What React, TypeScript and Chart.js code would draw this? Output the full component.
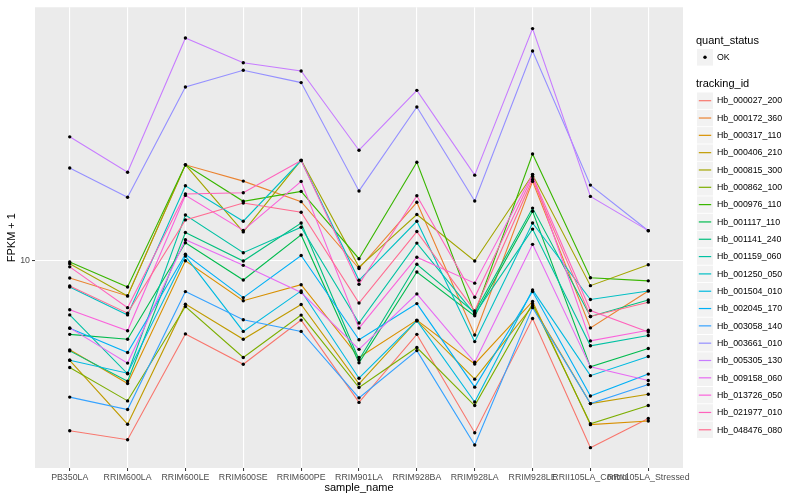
import React, { useEffect, useRef } from "react";
import { Chart, registerables } from "chart.js";

Chart.register(...registerables);

const categories = [
  "PB350LA", "RRIM600LA", "RRIM600LE", "RRIM600SE", "RRIM600PE", "RRIM901LA",
  "RRIM928BA", "RRIM928LA", "RRIM928LE", "RRII105LA_Control", "RRII105LA_Stressed",
];

const trackingIds = [
  "Hb_000027_200", "Hb_000172_360", "Hb_000317_110", "Hb_000406_210", "Hb_000815_300",
  "Hb_000862_100", "Hb_000976_110", "Hb_001117_110", "Hb_001141_240", "Hb_001159_060",
  "Hb_001250_050", "Hb_001504_010", "Hb_002045_170", "Hb_003058_140", "Hb_003661_010",
  "Hb_005305_130", "Hb_009158_060", "Hb_013726_050", "Hb_021977_010", "Hb_048476_080",
];

const seriesColors = [
  "#F8766D", "#EA8331", "#D89000", "#C09B00", "#A3A500", "#7CAE00", "#39B600", "#00BB4E",
  "#00BF7D", "#00C1A3", "#00BFC4", "#00BAE0", "#00B0F6", "#35A2FF", "#9590FF", "#C77CFF",
  "#E76BF3", "#FA62DB", "#FF62BC", "#FF6C91",
];

// FPKM + 1 values per sample, in category order
const hb_000027_200 = [2.70, 2.52, 5.70, 4.51, 6.34, 3.36, 5.68, 2.66, 6.42, 2.37, 2.97];
const hb_000172_360 = [8.77, 7.64, 21.0, 18.52, 15.81, 9.44, 15.73, 5.65, 18.48, 5.97, 7.94];
const hb_000317_110 = [5.04, 3.89, 10.02, 7.36, 8.33, 4.75, 6.34, 4.52, 7.32, 2.83, 2.91];
const hb_000406_210 = [4.65, 2.84, 7.17, 5.47, 7.15, 3.88, 6.31, 4.02, 7.07, 3.33, 3.58];
const hb_000815_300 = [9.79, 7.64, 21.0, 12.52, 21.78, 9.54, 14.31, 10.0, 19.45, 8.27, 9.72];
const hb_000862_100 = [4.40, 3.40, 7.04, 4.75, 6.59, 3.77, 5.13, 3.28, 7.19, 2.85, 3.28];
const hb_000976_110 = [9.92, 8.18, 21.0, 15.85, 17.11, 10.18, 21.42, 6.66, 22.82, 8.79, 8.58];
const hb_001117_110 = [5.68, 5.47, 11.51, 8.64, 12.23, 4.56, 9.19, 6.55, 14.68, 4.42, 5.09];
const hb_001141_240 = [5.0, 3.96, 12.46, 10.0, 13.41, 4.67, 9.75, 6.72, 15.04, 6.52, 7.40];
const hb_001159_060 = [6.60, 4.19, 14.26, 10.66, 12.97, 6.20, 11.48, 6.64, 12.79, 5.20, 5.63];
const hb_001250_050 = [8.18, 6.60, 17.87, 13.59, 21.7, 8.62, 13.59, 5.37, 13.41, 7.43, 7.94];
const hb_001504_010 = [4.65, 4.21, 10.39, 5.81, 7.94, 4.05, 6.31, 3.37, 8.0, 4.13, 4.79];
const hb_002045_170 = [5.95, 4.94, 10.53, 7.54, 10.44, 5.45, 7.20, 3.78, 7.90, 3.53, 4.18];
const hb_003058_140 = [3.50, 3.18, 7.90, 6.36, 5.81, 3.48, 5.01, 2.42, 6.98, 3.33, 3.86];
const hb_003661_010 = [20.5, 16.36, 38.28, 43.56, 39.6, 17.17, 32.8, 15.89, 50.5, 17.96, 12.63];
const hb_005305_130 = [26.06, 19.84, 55.85, 46.15, 43.3, 23.5, 37.3, 19.39, 60.06, 16.46, 12.64];
const hb_009158_060 = [5.97, 4.55, 11.78, 9.67, 7.84, 5.06, 7.76, 4.58, 11.37, 4.42, 3.98];
const hb_013726_050 = [6.87, 5.84, 16.59, 12.66, 18.48, 5.96, 10.30, 8.43, 19.49, 5.40, 5.86];
const hb_021977_010 = [9.56, 6.98, 16.76, 16.94, 21.7, 8.36, 16.55, 7.56, 19.19, 6.83, 5.78];
const hb_048476_080 = [8.25, 6.69, 13.73, 15.64, 14.57, 7.23, 12.55, 6.81, 18.76, 6.52, 7.28];

const seriesValues = [
  hb_000027_200, hb_000172_360, hb_000317_110, hb_000406_210, hb_000815_300,
  hb_000862_100, hb_000976_110, hb_001117_110, hb_001141_240, hb_001159_060,
  hb_001250_050, hb_001504_010, hb_002045_170, hb_003058_140, hb_003661_010,
  hb_005305_130, hb_009158_060, hb_013726_050, hb_021977_010, hb_048476_080,
];

const yTicks = [10];
const yMin = 2.026;
const yMax = 70.79;

const FONT = "'Liberation Sans', Arial, Helvetica, sans-serif";

const ggPlugin = {
  id: "ggStyle",
  beforeDraw(chart: any) {
    const { ctx, chartArea: a } = chart;
    ctx.save();
    ctx.fillStyle = "#EBEBEB";
    ctx.fillRect(a.left, a.top, a.right - a.left, a.bottom - a.top);
    ctx.restore();
  },
  afterDatasetsDraw(chart: any) {
    const ctx = chart.ctx;
    ctx.save();
    ctx.fillStyle = "#000000";
    chart.data.datasets.forEach((_: any, i: number) => {
      const meta = chart.getDatasetMeta(i);
      meta.data.forEach((el: any) => {
        ctx.beginPath();
        ctx.arc(el.x, el.y, 1.7, 0, Math.PI * 2);
        ctx.fill();
      });
    });
    ctx.restore();
  },
  afterDraw(chart: any) {
    const { ctx, chartArea: a } = chart;
    ctx.save();
    // axis titles
    ctx.fillStyle = "#000000";
    ctx.font = `11px ${FONT}`;
    ctx.textAlign = "center";
    ctx.textBaseline = "middle";
    ctx.fillText("sample_name", (a.left + a.right) / 2, 487.5);
    ctx.save();
    ctx.translate(12, (a.top + a.bottom) / 2);
    ctx.rotate(-Math.PI / 2);
    ctx.fillText("FPKM + 1", 0, 0);
    ctx.restore();

    // legend
    const lx = 696;
    const boxX = 697;
    const boxW = 16;
    const textX = 717;
    ctx.textAlign = "left";
    ctx.font = `11px ${FONT}`;
    ctx.fillText("quant_status", lx, 40.7);
    ctx.fillStyle = "#F2F2F2";
    ctx.fillRect(boxX, 49, boxW, 16.6);
    ctx.fillStyle = "#000000";
    ctx.beginPath();
    ctx.arc(boxX + boxW / 2, 57.3, 1.7, 0, Math.PI * 2);
    ctx.fill();
    ctx.font = `8.8px ${FONT}`;
    ctx.fillText("OK", textX, 57.5);

    ctx.font = `11px ${FONT}`;
    ctx.fillText("tracking_id", lx, 84.3);
    const step = 17.32;
    trackingIds.forEach((id, i) => {
      const cy = 100.7 + i * step;
      ctx.fillStyle = "#F2F2F2";
      ctx.fillRect(boxX, cy - 8.2, boxW, 16.4);
      ctx.strokeStyle = seriesColors[i];
      ctx.lineWidth = 1.2;
      ctx.beginPath();
      ctx.moveTo(boxX + 1.8, cy);
      ctx.lineTo(boxX + boxW - 1.8, cy);
      ctx.stroke();
      ctx.fillStyle = "#000000";
      ctx.font = `8.8px ${FONT}`;
      ctx.fillText(id, textX, cy + 0.3);
    });
    ctx.restore();
  },
};

export default function App() {
  const canvasRef = useRef<HTMLCanvasElement | null>(null);

  useEffect(() => {
    const canvas = canvasRef.current;
    if (!canvas) return;
    Chart.defaults.font.family = FONT;

    const datasets = seriesValues.map((vals, i) => ({
      label: trackingIds[i],
      data: vals.map((v, j) => ({ x: j, y: v })),
      borderColor: seriesColors[i],
      backgroundColor: seriesColors[i],
      borderWidth: 1.1,
      pointRadius: 0,
      pointHoverRadius: 0,
      tension: 0,
      fill: false,
      order: seriesValues.length - i,
    }));

    const chart = new Chart(canvas, {
      type: "line",
      data: { datasets },
      plugins: [ggPlugin],
      options: {
        animation: false,
        responsive: false,
        devicePixelRatio: 1,
        events: [],
        layout: { padding: { top: 5, right: 117, bottom: 0, left: 0 } },
        plugins: {
          legend: { display: false },
          tooltip: { enabled: false },
          title: { display: false },
        },
        scales: {
          x: {
            type: "linear",
            min: -0.6,
            max: 10.6,
            afterBuildTicks: (scale: any) => {
              scale.ticks = categories.map((_, i) => ({ value: i }));
            },
            afterFit: (scale: any) => {
              scale.height = 32;
            },
            border: { display: false },
            grid: {
              color: "#FFFFFF",
              lineWidth: 1.1,
              drawTicks: true,
              tickLength: 3,
              tickColor: "#333333",
              tickWidth: 1,
            },
            ticks: {
              autoSkip: false,
              maxRotation: 0,
              minRotation: 0,
              padding: 1.5,
              color: "#4D4D4D",
              font: { size: 8.8, family: FONT },
              callback: (v: any) => categories[Math.round(Number(v))] ?? "",
            },
          },
          y: {
            type: "logarithmic",
            min: yMin,
            max: yMax,
            bounds: "data",
            afterBuildTicks: (scale: any) => {
              scale.ticks = yTicks.map((v) => ({ value: v }));
            },
            afterFit: (scale: any) => {
              scale.width = 35;
            },
            border: { display: false },
            grid: {
              color: "#FFFFFF",
              lineWidth: 1.1,
              drawTicks: true,
              tickLength: 3,
              tickColor: "#333333",
              tickWidth: 1,
            },
            ticks: {
              padding: 2,
              color: "#4D4D4D",
              font: { size: 8.8, family: FONT },
              callback: (v: any) => String(v),
            },
          },
        },
      },
    } as any);

    return () => {
      chart.destroy();
    };
  }, []);

  return (
    <div style={{ position: "absolute", left: 0, top: 0, width: 800, height: 500, background: "#FFFFFF" }}>
      <canvas ref={canvasRef} width={800} height={500} style={{ width: 800, height: 500, display: "block" }} />
    </div>
  );
}
